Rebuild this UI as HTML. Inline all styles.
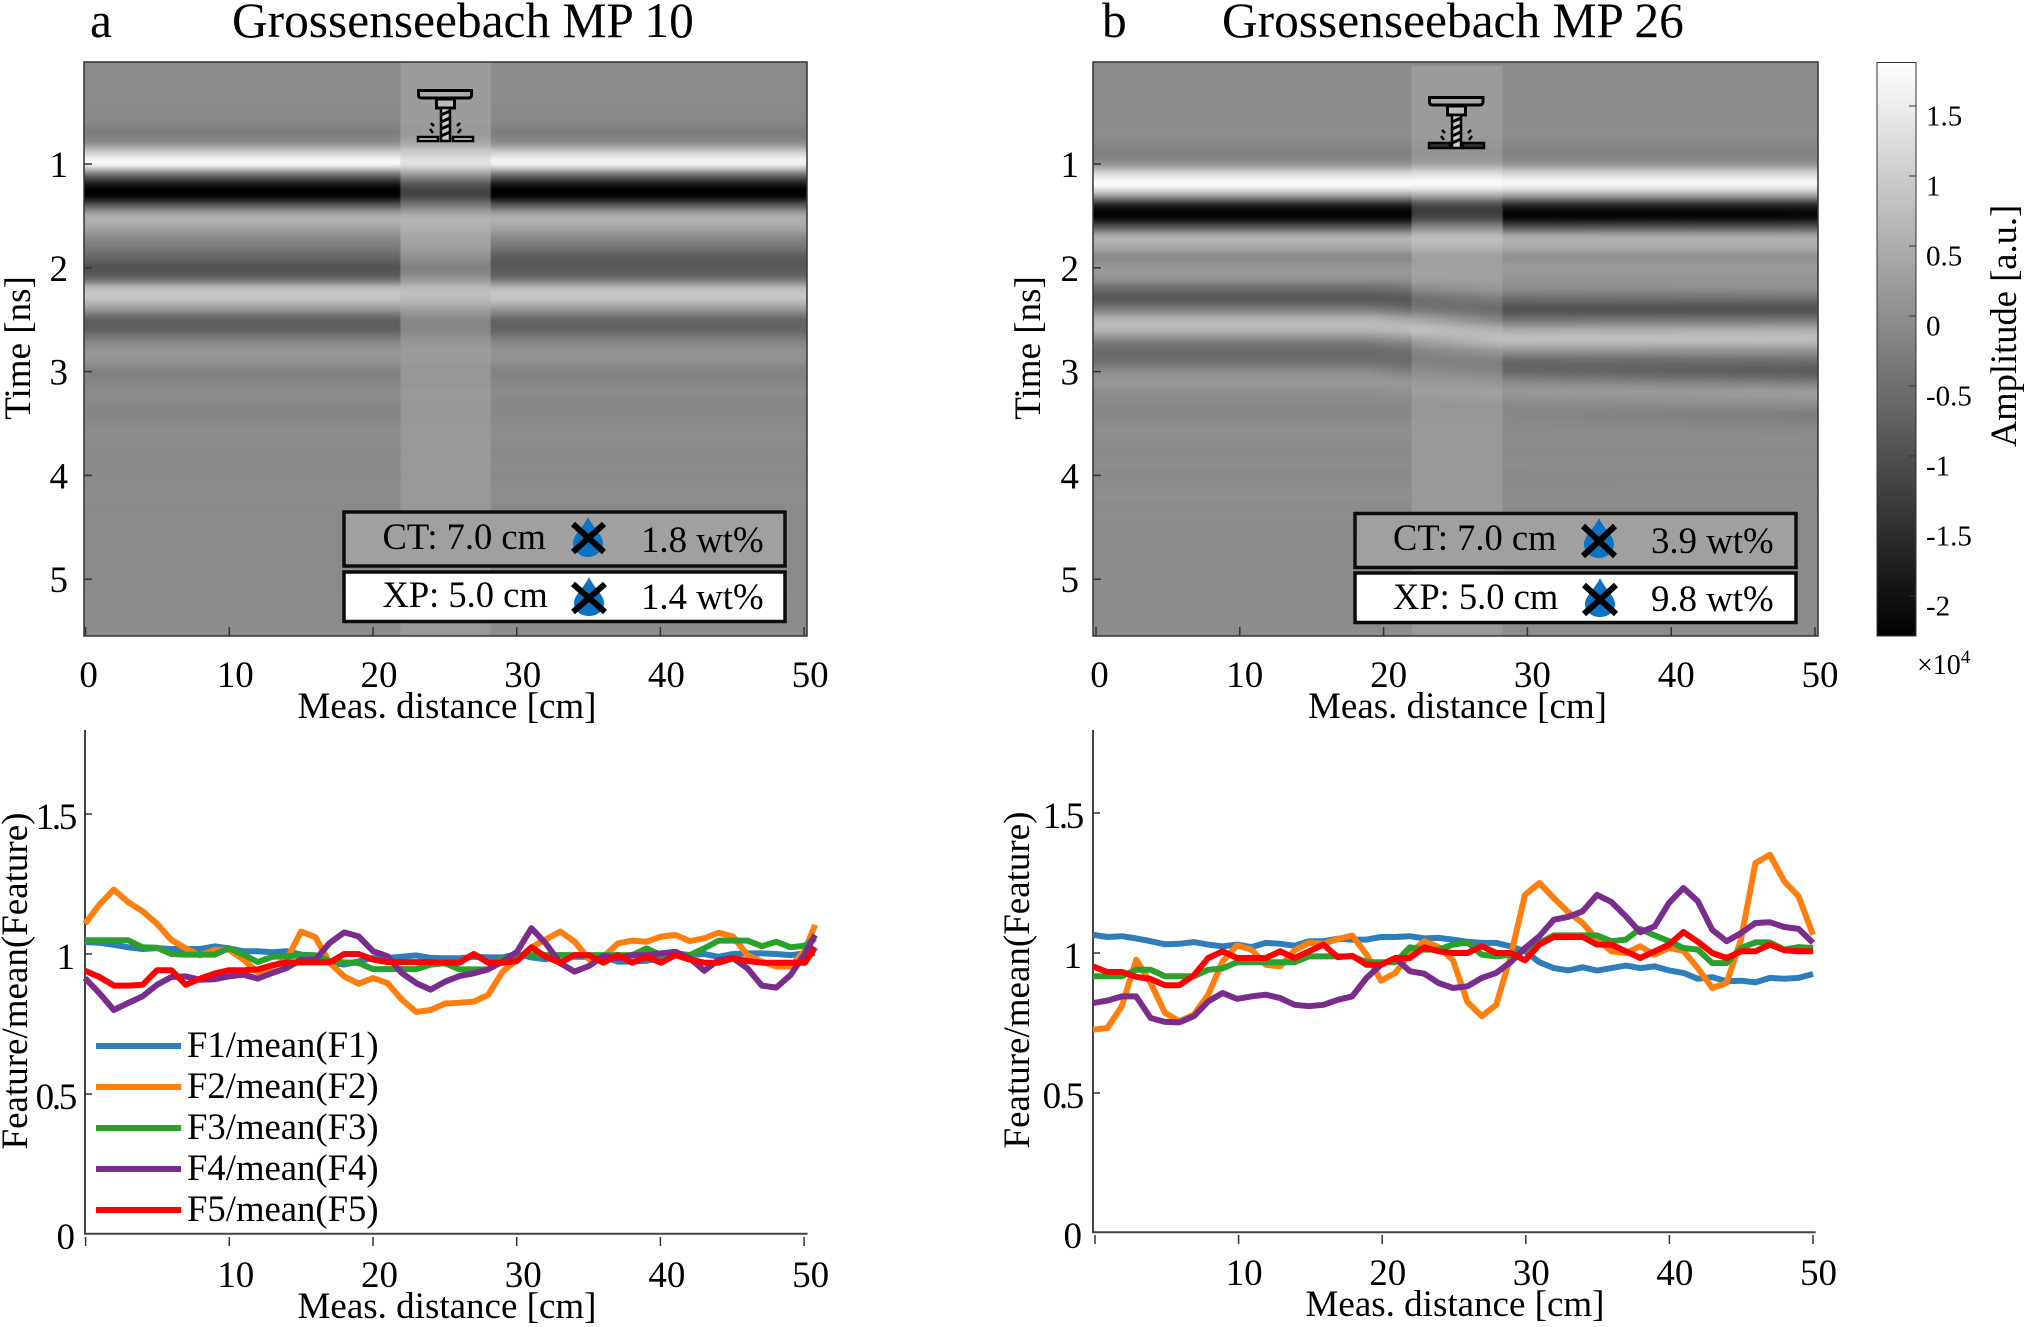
<!DOCTYPE html>
<html lang="en">
<head>
<meta charset="utf-8">
<title>Grossenseebach MP 10 and MP 26</title>
<style>
html,body{margin:0;padding:0;background:#fff;}
#stage{position:relative;width:2024px;height:1327px;overflow:hidden;background:#fff;}
canvas{position:absolute;display:block;}
svg#overlay{position:absolute;left:0;top:0;}
svg text{font-family:"Liberation Serif",serif;fill:#000;}
</style>
</head>
<body>
<div id="stage">
<canvas id="heatA" width="723" height="574" style="left:84px;top:62px"></canvas>
<canvas id="heatB" width="725" height="574" style="left:1093px;top:62px"></canvas>
<svg id="overlay" width="2024" height="1327" viewBox="0 0 2024 1327" xmlns="http://www.w3.org/2000/svg">
<defs>
<linearGradient id="cbGrad" x1="0" y1="0" x2="0" y2="1"><stop offset="0" stop-color="#fff"/><stop offset="1" stop-color="#000"/></linearGradient>
</defs>

<text x="90" y="37" font-size="49.4">a</text>
<text x="232" y="37" font-size="49.4">Grossenseebach MP 10</text>
<text x="1102" y="37" font-size="49.4">b</text>
<text x="1222" y="37" font-size="49.4">Grossenseebach MP 26</text>

<rect x="1412" y="62" width="91" height="4" fill="#8c8c8c"/>

<rect x="84" y="62" width="723" height="574" fill="none" stroke="#333" stroke-width="1.5"/>
<rect x="1093" y="62" width="725" height="574" fill="none" stroke="#333" stroke-width="1.5"/>

<g transform="translate(417,89)" fill="none" stroke="#000">
<path d="M1.5 1.5H54.5V6Q54.5 9 51 9H5Q1.5 9 1.5 6Z" fill="#aaa" stroke-width="3"/>
<rect x="19.5" y="10" width="18" height="9" fill="#bbb" stroke-width="3"/>
<rect x="24" y="19" width="9" height="33" fill="#ccc" stroke-width="2.5"/>
<path d="M24 26L33 22M24 33L33 29M24 40L33 36M24 47L33 43" stroke-width="3"/>
<rect x="1" y="48" width="20" height="4" fill="#ddd" stroke-width="2.5"/>
<rect x="36" y="48" width="20" height="4" fill="#ddd" stroke-width="2.5"/>
<path d="M14 34L17 37M13 40L16 44M43 34L40 37M44 40L41 44" stroke-width="2.5"/>
</g>
<g transform="translate(1428,96)" fill="none" stroke="#000">
<path d="M1.5 1.5H55V6Q55 9 51 9H5Q1.5 9 1.5 6Z" fill="#aaa" stroke-width="3"/>
<rect x="19.5" y="10" width="18" height="9" fill="#bbb" stroke-width="3"/>
<rect x="24" y="19" width="9" height="33" fill="#ccc" stroke-width="2.5"/>
<path d="M24 26L33 22M24 33L33 29M24 40L33 36M24 47L33 43" stroke-width="3"/>
<rect x="1" y="47" width="21" height="5" fill="#333" stroke-width="2.5"/>
<rect x="35" y="47" width="21" height="5" fill="#333" stroke-width="2.5"/>
<path d="M14 34L17 37M13 40L16 44M43 34L40 37M44 40L41 44" stroke-width="2.5"/>
</g>

<!-- annotation boxes, panel a -->
<g>
<rect x="344" y="512" width="441" height="54" fill="#a0a0a0" stroke="#0c0c0c" stroke-width="3.5"/>
<text x="382.5" y="549" font-size="36.5">CT: 7.0 cm</text>
<path d="M588 517C583 528 573 535 573 543C573 551 580 557 588 557C596 557 603 551 603 543C603 535 593 528 588 517Z" fill="#0b72c4"/>
<path d="M573 524L604 552M604 524L573 552" stroke="#000" stroke-width="6"/>
<text x="641" y="552" font-size="36.8">1.8 wt%</text>
</g>
<g>
<rect x="344" y="572" width="441" height="49.5" fill="#fff" stroke="#0c0c0c" stroke-width="3.5"/>
<text x="382.5" y="607" font-size="36.5">XP: 5.0 cm</text>
<path d="M589 577C584 588 574 595 574 603C574 611 581 616 589 616C597 616 604 611 604 603C604 595 594 588 589 577Z" fill="#0b72c4"/>
<path d="M573 584L605 612M605 584L573 612" stroke="#000" stroke-width="6"/>
<text x="641" y="609" font-size="36.8">1.4 wt%</text>
</g>

<!-- annotation boxes, panel b -->
<g>
<rect x="1355" y="513.5" width="441" height="54" fill="#a0a0a0" stroke="#0c0c0c" stroke-width="3.5"/>
<text x="1393" y="550" font-size="36.5">CT: 7.0 cm</text>
<path d="M1599 518C1594 529 1584 536 1584 544C1584 552 1591 558 1599 558C1607 558 1614 552 1614 544C1614 536 1604 529 1599 518Z" fill="#0b72c4"/>
<path d="M1583 526L1615 556M1615 526L1583 556" stroke="#000" stroke-width="6"/>
<text x="1651" y="553" font-size="36.8">3.9 wt%</text>
</g>
<g>
<rect x="1355" y="573" width="441" height="49.5" fill="#fff" stroke="#0c0c0c" stroke-width="3.5"/>
<text x="1393" y="609" font-size="36.5">XP: 5.0 cm</text>
<path d="M1600 578C1595 589 1585 596 1585 604C1585 612 1592 617 1600 617C1608 617 1615 612 1615 604C1615 596 1605 589 1600 578Z" fill="#0b72c4"/>
<path d="M1584 585L1616 614M1616 585L1584 614" stroke="#000" stroke-width="6"/>
<text x="1651" y="611" font-size="36.8">9.8 wt%</text>
</g>

<!-- axis titles -->
<text transform="translate(30,348) rotate(-90)" text-anchor="middle" font-size="37">Time [ns]</text>
<text transform="translate(1040,348) rotate(-90)" text-anchor="middle" font-size="37">Time [ns]</text>
<text x="447" y="718" text-anchor="middle" font-size="37">Meas. distance [cm]</text>
<text x="1457.5" y="718" text-anchor="middle" font-size="37">Meas. distance [cm]</text>
<text x="447" y="1318" text-anchor="middle" font-size="37">Meas. distance [cm]</text>
<text x="1455" y="1316" text-anchor="middle" font-size="37">Meas. distance [cm]</text>
<text transform="translate(27,981) rotate(-90)" text-anchor="middle" font-size="37">Feature/mean(Feature)</text>
<text transform="translate(1029,980) rotate(-90)" text-anchor="middle" font-size="37">Feature/mean(Feature)</text>

<!-- colorbar -->
<rect x="1877" y="62.5" width="39" height="573.5" fill="url(#cbGrad)" stroke="#333" stroke-width="1"/>
<text transform="translate(2016,326) rotate(-90)" text-anchor="middle" font-size="36.5">Amplitude [a.u.]</text>
<text x="1917" y="674" font-size="28">×10<tspan font-size="19" dy="-11">4</tspan></text>

<!-- lower axes -->
<path d="M85 730V1233.7H807.6" fill="none" stroke="#444" stroke-width="2"/>
<path d="M1093 730V1232.3H1815.7" fill="none" stroke="#444" stroke-width="2"/>

<g id="ticksLayer"></g>
<g id="linesA"></g>
<g id="linesB"></g>

<!-- legend -->
<g font-size="36.7">
<g><line x1="96" x2="181" y1="1046" y2="1046" stroke="#2e7ebb" stroke-width="6"/><text x="187" y="1057">F1/mean(F1)</text></g>
<g><line x1="96" x2="181" y1="1087" y2="1087" stroke="#ff7f0e" stroke-width="6"/><text x="187" y="1098">F2/mean(F2)</text></g>
<g><line x1="96" x2="181" y1="1128" y2="1128" stroke="#2ca02c" stroke-width="6"/><text x="187" y="1139">F3/mean(F3)</text></g>
<g><line x1="96" x2="181" y1="1169" y2="1169" stroke="#7b2d8e" stroke-width="6"/><text x="187" y="1180">F4/mean(F4)</text></g>
<g><line x1="96" x2="181" y1="1210" y2="1210" stroke="#ff0000" stroke-width="6"/><text x="187" y="1221">F5/mean(F5)</text></g>
</g>
</svg>
</div>

<script>
/* ---------- radargram data: amplitude (x10^4) per time sample for traces at given distances ---------- */
const timeSamples = [0,.1,.2,.3,.4,.5,.6,.7,.8,.9,1,1.1,1.2,1.3,1.4,1.5,1.6,1.7,1.8,1.9,2,2.1,2.2,2.3,2.4,2.5,2.6,2.7,2.8,2.9,3,3.1,3.2,3.3,3.4,3.5,3.6,3.7,3.8,3.9,4,4.1,4.2,4.3,4.4,4.5,4.6,4.7,4.8,4.9,5,5.1,5.2,5.3,5.4,5.5,5.6];

const traceALeft = [-.05,-.05,-.05,-.05,-.05,-.08,-.12,-.25,.05,1.15,1.6,-.4,-1.9,-2.25,-.8,.45,.4,-.03,-.3,-.65,-.95,-.6,.75,.82,.15,-.7,-.7,-.2,.1,.05,-.2,-.15,-.05,-.1,-.15,-.08,-.03,-.05,-.08,-.06,-.08,-.05,-.03,-.06,-.05,-.05,-.06,-.05,-.05,-.06,-.05,-.05,-.03,-.03,-.03,-.03,-.03];
const traceADrill = [.22,.22,.22,.22,.22,.22,.22,.2,.45,1.05,1.3,.2,-.9,-1.15,-.3,.5,.55,.4,.3,.02,-.2,.1,.7,.7,.3,-.1,-.1,.1,.22,.2,.12,.12,.18,.15,.12,.15,.15,.15,.15,.15,.15,.15,.15,.15,.15,.15,.15,.15,.15,.15,.15,.15,.15,.15,.15,.15,.15];
const traceARight = [-.05,-.05,-.05,-.05,-.05,-.08,-.12,-.25,.05,1.15,1.55,-.4,-1.9,-2.25,-.8,.45,.4,-.03,-.4,-.8,-.85,-.5,.72,.82,.15,-.6,-.65,-.2,.05,.02,-.18,-.12,-.05,-.12,-.1,-.05,-.02,-.06,-.08,-.05,-.08,-.05,-.02,-.05,-.05,-.05,-.05,-.05,-.05,-.05,-.05,-.05,-.03,-.03,-.03,-.03,-.03];
const traceDistancesA = [0,21.85,21.95,28.15,28.25,50];

const traceBLeft = [-.03,-.03,-.03,-.03,-.03,-.03,-.03,-.03,-.1,-.2,.1,1.25,1.72,.35,-1.75,-2.2,-1,.5,.42,-.05,.15,.05,-.55,-.85,-.25,.6,.6,-.15,-.55,-.45,-.05,.15,0,-.08,-.12,-.05,0,-.05,-.06,-.03,-.08,-.03,0,-.05,-.02,-.05,-.03,-.03,-.03,-.03,-.03,-.03,-.03,-.03,-.03,-.03,-.03];
const traceBLeftEdge = [-.03,-.03,-.03,-.03,-.03,-.03,-.03,-.03,-.1,-.2,.1,1.25,1.72,.35,-1.75,-2.2,-1,.5,.42,-.05,.15,.05,-.4,-.85,-.5,.4,.7,.05,-.45,-.55,-.25,.1,.05,-.08,-.12,-.05,0,-.05,-.06,-.03,-.08,-.03,0,-.05,-.02,-.05,-.03,-.03,-.03,-.03,-.03,-.03,-.03,-.03,-.03,-.03,-.03];
const traceBDrillLeft = [.2,.2,.2,.2,.2,.2,.2,.2,.15,.1,.35,1.35,1.7,.5,-1.1,-1.2,-.2,.7,.6,.3,.3,.3,-.05,-.5,-.3,.4,.8,.3,-.15,-.2,0,.2,.25,.12,.12,.15,.15,.15,.15,.15,.15,.15,.15,.15,.15,.15,.15,.15,.15,.15,.15,.15,.15,.15,.15,.15,.15];
const traceBDrillRight = [.2,.2,.2,.2,.2,.2,.2,.2,.15,.1,.35,1.35,1.7,.5,-1.1,-1.2,-.2,.7,.6,.3,.3,.3,.15,-.25,-.55,-.15,.55,.75,.2,-.2,-.15,.1,.3,.2,.12,.15,.15,.15,.15,.15,.15,.15,.15,.15,.15,.15,.15,.15,.15,.15,.15,.15,.15,.15,.15,.15,.15];
const traceBRightNear = [-.03,-.03,-.03,-.03,-.03,-.03,-.03,-.03,-.1,-.2,.1,1.2,1.62,.35,-1.65,-2.2,-1.05,.42,.45,.05,.2,.1,-.05,-.55,-.95,-.45,.45,.75,.1,-.6,-.6,-.1,.12,-.05,-.12,-.08,-.05,-.05,-.06,-.03,-.08,-.06,-.03,-.05,-.03,-.03,-.03,-.03,-.03,-.03,-.03,-.03,-.03,-.03,-.03,-.03,-.03];
const traceBRightFar = [-.03,-.03,-.03,-.03,-.03,-.03,-.03,-.03,-.1,-.2,.1,1.2,1.62,.35,-1.65,-2.15,-1,.42,.45,.05,.2,.1,0,-.5,-.95,-.4,.5,.72,.1,-.5,-.8,-.3,.22,.05,-.25,-.18,-.05,-.05,-.06,-.03,-.06,-.05,-.03,-.05,-.03,-.03,-.03,-.03,-.03,-.03,-.03,-.03,-.03,-.03,-.03,-.03,-.03];
const traceDistancesB = [0,19,21.9,22,28.2,28.35,50];

const amplitudeTop = 1.814;
const amplitudeBottom = -2.286;

/* ---------- tick labels ---------- */
const timeTicks = [1,2,3,4,5];
const topDistanceTicks = [0,10,20,30,40,50];
const bottomDistanceTicks = [0,10,20,30,40,50];
const bottomDistanceLabels = ["","10","20","30","40","50"];
const ratioTicks = [0,0.5,1,1.5];
const ratioLabels = ["0","0.5","1","1.5"];
const colorbarTicks = [-2,-1.5,-1,-0.5,0,0.5,1,1.5];
const colorbarLabels = ["-2","-1.5","-1","-0.5","0","0.5","1","1.5"];

/* ---------- feature ratio series, panel a (distance 0..50 cm plus the end sample) ---------- */
const distancesA = [0,1,2,3,4,5,6,7,8,9,10,11,12,13,14,15,16,17,18,19,20,21,22,23,24,25,26,27,28,29,30,31,32,33,34,35,36,37,38,39,40,41,42,43,44,45,46,47,48,49,50,50.7];
const f1A = [1.043,1.04,1.033,1.024,1.018,1.021,1.018,1.018,1.018,1.027,1.02,1.01,1.01,1.006,1.01,.998,.995,.97,.962,.974,.986,.986,.99,.995,.986,.985,.985,.99,.988,.988,1,.988,.981,.996,.99,.99,.99,.973,.973,.976,.985,1.002,.996,1,.99,1,1.002,1.002,1,.996,1.002,1.002];
const f2A = [1.108,1.176,1.23,1.185,1.152,1.108,1.05,1.02,.995,1.015,1.015,.98,.935,.955,.98,1.08,1.06,.968,.92,.894,.914,.896,.837,.793,.8,.823,.826,.83,.854,.937,.979,1.024,1.052,1.08,1.044,.981,.99,1.038,1.048,1.044,1.062,1.068,1.046,1.056,1.076,1.062,.996,.973,.955,.955,1.014,1.104];
const f3A = [1.049,1.049,1.049,1.049,1.024,1.022,1,.998,.998,.998,1.021,.998,.971,.99,.992,.995,.995,.974,.97,.968,.946,.946,.946,.946,.962,.967,.945,.945,.945,.985,.996,.996,.996,.996,.996,.996,.996,.996,.996,1.02,.996,.996,.996,1.02,1.048,1.048,1.048,1.028,1.044,1.024,1.03,1.056];
const f4A = [.914,.86,.8,.825,.849,.89,.918,.92,.908,.91,.92,.926,.912,.932,.95,.98,.98,1.04,1.077,1.063,1.01,.992,.932,.896,.873,.901,.921,.931,.945,.973,1.008,1.092,1.038,.967,.937,.957,.993,.985,.996,.996,1.002,1.008,.985,.94,.979,.985,.949,.887,.88,.925,1.002,1.068];
const f5A = [.94,.918,.887,.887,.89,.942,.942,.89,.912,.93,.942,.942,.945,.96,.97,.97,.97,.97,1,1,.98,.971,.971,.971,.971,.969,.969,1,.969,.969,.975,1.024,.99,.969,.996,.996,.969,.996,.969,.99,.969,.996,.98,.969,.969,.985,.975,.969,.969,.969,.969,1.024];

/* ---------- feature ratio series, panel b ---------- */
const distancesB = [0,1,2,3,4,5,6,7,8,9,10,11,12,13,14,15,16,17,18,19,20,21,22,23,24,25,26,27,28,29,30,31,32,33,34,35,36,37,38,39,40,41,42,43,44,45,46,47,48,49,50];
const f1B = [1.065,1.057,1.06,1.052,1.042,1.031,1.033,1.039,1.03,1.024,1.03,1.021,1.036,1.033,1.026,1.042,1.042,1.051,1.048,1.048,1.057,1.057,1.06,1.052,1.054,1.048,1.04,1.036,1.036,1.024,1.006,.967,.946,.938,.949,.937,.946,.955,.946,.952,.938,.929,.908,.914,.899,.901,.895,.911,.908,.911,.925];
const f2B = [.726,.732,.81,.976,.893,.786,.756,.78,.851,.97,1.027,1.012,.958,.952,1.01,1.036,1.033,1.05,1.062,.994,.901,.929,1,1.042,1.021,.974,.825,.774,.815,.988,1.208,1.25,1.196,1.146,1.107,1.048,1.006,1,1.024,.994,1.018,1.008,.946,.875,.893,1.048,1.321,1.351,1.256,1.202,1.065];
const f3B = [.917,.917,.917,.94,.94,.917,.917,.917,.94,.945,.967,.967,.967,.967,.967,.988,.988,.988,.988,.967,.967,.967,1.02,1.012,1.012,1.03,1.038,.994,.988,.994,1.012,1.036,1.063,1.063,1.063,1.063,1.042,1.048,1.086,1.063,1.042,1.018,1.012,.964,.964,1.018,1.038,1.038,1.012,1.021,1.018];
const f4B = [.821,.83,.845,.845,.768,.754,.752,.774,.827,.857,.836,.845,.851,.839,.815,.81,.815,.833,.845,.911,.958,.982,.935,.926,.893,.875,.881,.911,.929,.967,1.018,1.06,1.119,1.129,1.149,1.208,1.182,1.131,1.074,1.095,1.179,1.232,1.185,1.083,1.042,1.071,1.107,1.11,1.093,1.086,1.036];
const f5B = [.952,.932,.932,.915,.907,.885,.885,.92,.982,1.006,.982,.982,.982,1.006,.982,1.006,1.03,.985,.99,.958,.958,.982,.982,1.02,1.006,1,1,1.024,1,1,.974,1.03,1.057,1.057,1.057,1.03,1.03,1.006,.982,1.006,1.03,1.075,1.04,1,.982,1.006,1.006,1.03,1.01,1.006,1.006];

const seriesColors = ["#2e7ebb","#ff7f0e","#2ca02c","#7b2d8e","#ff0000"];
const seriesNames = ["f1","f2","f3","f4","f5"];

/* ---------- axis functions ---------- */
const xHeatA = d => 85.6 + 14.37 * d;
const xHeatB = d => 1096 + 14.38 * d;
const yTime = t => 164 + (t - 1) * 103.8;
const yColorbar = a => 316 - 140 * a;
const xLineA = d => 85 + 14.4 * d;
const xLineB = d => 1093 + 14.4 * d;
const xTickBottomA = d => 85.6 + 14.37 * d;
const xTickBottomB = d => 1095 + 14.36 * d;
const yRatioA = v => 1234 - 280 * v;
const yRatioB = v => 1233 - 280 * v;

/* ---------- radargram rendering ---------- */
function sampleTrace(trace, t) {
  const step = timeSamples[1] - timeSamples[0];
  const n = trace.length;
  let u = (t - timeSamples[0]) / step;
  if (u < 0) u = 0;
  if (u > n - 1) u = n - 1;
  const i = Math.min(Math.floor(u), n - 2);
  const f = u - i;
  const p0 = trace[Math.max(i - 1, 0)], p1 = trace[i], p2 = trace[i + 1], p3 = trace[Math.min(i + 2, n - 1)];
  return p1 + 0.5 * f * (p2 - p0 + f * (2 * p0 - 5 * p1 + 4 * p2 - p3 + f * (3 * (p1 - p2) + p3 - p0)));
}
function drawHeat(id, left, top, traces, dists, xScale) {
  const cv = document.getElementById(id);
  const ctx = cv.getContext('2d');
  const w = cv.width, h = cv.height;
  const img = ctx.createImageData(w, h);
  const dPerPx = xScale(1) - xScale(0);
  const d0 = -xScale(0) / dPerPx;
  const vals = new Array(traces.length);
  for (let py = 0; py < h; py++) {
    const t = 1 + ((top + py + 0.5) - yTime(1)) / (yTime(2) - yTime(1));
    for (let k = 0; k < traces.length; k++) vals[k] = sampleTrace(traces[k], t);
    let seg = 0;
    for (let px = 0; px < w; px++) {
      const d = d0 + (left + px + 0.5) / dPerPx;
      while (seg < dists.length - 2 && d > dists[seg + 1]) seg++;
      let f = (d - dists[seg]) / (dists[seg + 1] - dists[seg]);
      f = Math.max(0, Math.min(1, f));
      const a = vals[seg] * (1 - f) + vals[seg + 1] * f;
      let g = (a - amplitudeBottom) / (amplitudeTop - amplitudeBottom) * 255;
      g = Math.max(0, Math.min(255, g));
      const o = (py * w + px) * 4;
      img.data[o] = g; img.data[o + 1] = g; img.data[o + 2] = g; img.data[o + 3] = 255;
    }
  }
  ctx.putImageData(img, 0, 0);
}
drawHeat('heatA', 84, 62, [traceALeft, traceALeft, traceADrill, traceADrill, traceARight, traceARight], traceDistancesA, xHeatA);
drawHeat('heatB', 1093, 62, [traceBLeft, traceBLeft, traceBLeftEdge, traceBDrillLeft, traceBDrillRight, traceBRightNear, traceBRightFar], traceDistancesB, xHeatB);

/* ---------- svg helpers ---------- */
const NS = 'http://www.w3.org/2000/svg';
const tickLayer = document.getElementById('ticksLayer');
function makeLine(x1, y1, x2, y2, color, width) {
  const el = document.createElementNS(NS, 'line');
  el.setAttribute('x1', x1);
  el.setAttribute('y1', y1);
  el.setAttribute('x2', x2);
  el.setAttribute('y2', y2);
  el.setAttribute('stroke', color);
  el.setAttribute('stroke-width', width);
  
  
  tickLayer.appendChild(el);
  return el;
}
function makeText(x, y, str, size, anchor) {
  const el = document.createElementNS(NS, 'text');
  el.setAttribute('x', x);
  el.setAttribute('y', y);
  el.setAttribute('font-size', size);
  el.setAttribute('text-anchor', anchor);
  
  
  el.textContent = str;
  tickLayer.appendChild(el);
  return el;
}

/* upper panels: time ticks */
timeTicks.forEach(t => {
  makeLine(84, yTime(t), 92, yTime(t), '#333', 1.5);
  makeText(68, yTime(t) + 13, String(t), 37, 'end');
  makeLine(1093, yTime(t), 1101, yTime(t), '#333', 1.5);
  makeText(1079, yTime(t) + 13, String(t), 37, 'end');
});
/* upper panels: distance ticks */
topDistanceTicks.forEach(d => {
  makeLine(xHeatA(d), 627, xHeatA(d), 636, '#333', 1.5);
  makeText(xHeatA(d) + (d === 0 ? 3 : 6), 687, String(d), 37, 'middle');
  makeLine(xHeatB(d), 627, xHeatB(d), 636, '#333', 1.5);
  makeText(xHeatB(d) + (d === 0 ? 3.5 : 5), 687, String(d), 37, 'middle');
});
/* lower panels: distance ticks */
bottomDistanceTicks.forEach((d, i) => {
  makeLine(xTickBottomA(d), 1237, xTickBottomA(d), 1246, '#333', 1.5);
  makeText(xTickBottomA(d) + 6.5, 1287, bottomDistanceLabels[i], 37, 'middle');
  makeLine(xTickBottomB(d), 1235, xTickBottomB(d), 1244, '#333', 1.5);
  makeText(xTickBottomB(d) + 5.5, 1285, bottomDistanceLabels[i], 37, 'middle');
});
/* lower panels: ratio ticks */
ratioTicks.forEach((v, i) => {
  if (v > 0) {
    makeLine(85, yRatioA(v), 92, yRatioA(v), '#333', 1.5);
    makeLine(1093, yRatioB(v), 1100, yRatioB(v), '#333', 1.5);
  }
  const la = makeText(75, yRatioA(v) + 15, ratioLabels[i], 37, 'end');
  const lb = makeText(1082, yRatioB(v) + 15, ratioLabels[i], 37, 'end');
  if (ratioLabels[i].length > 1) {
    la.setAttribute('letter-spacing', '-2.3');
    lb.setAttribute('letter-spacing', '-2.3');
  }
});
/* colorbar ticks */
colorbarTicks.forEach((a, i) => {
  makeLine(1909, yColorbar(a), 1916, yColorbar(a), '#333', 1);
  makeText(1926, yColorbar(a) + 19.5, colorbarLabels[i], 29, 'start');
});

/* series lines */
function drawSeries(groupId, panel, dists, allSeries, xs, ys) {
  const g = document.getElementById(groupId);
  allSeries.forEach((vals, k) => {
    const pts = vals.map((v, i) => xs(dists[i]).toFixed(1) + ',' + ys(v).toFixed(1)).join(' ');
    const pl = document.createElementNS(NS, 'polyline');
    pl.setAttribute('points', pts);
    pl.setAttribute('fill', 'none');
    pl.setAttribute('stroke', seriesColors[k]);
    pl.setAttribute('stroke-width', '6');
    pl.setAttribute('stroke-linejoin', 'round');
    
    
    g.appendChild(pl);
  });
}
drawSeries('linesA', 'a', distancesA, [f1A, f2A, f3A, f4A, f5A], xLineA, yRatioA);
drawSeries('linesB', 'b', distancesB, [f1B, f2B, f3B, f4B, f5B], xLineB, yRatioB);
</script>
</body>
</html>
